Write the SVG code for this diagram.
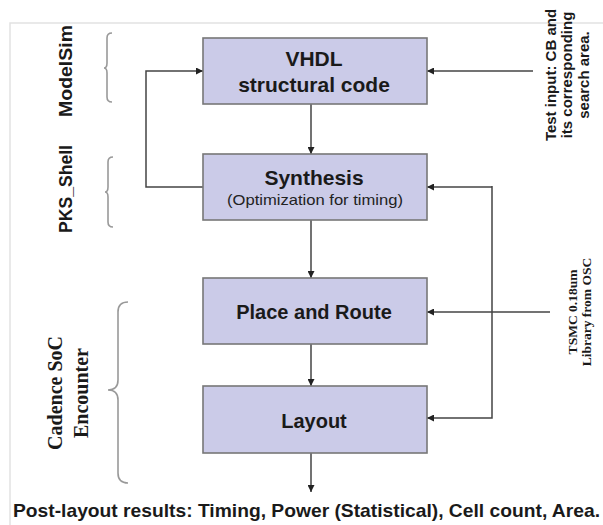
<svg xmlns="http://www.w3.org/2000/svg" width="603" height="525" viewBox="0 0 603 525">
  <style>
    .box { fill: #cbcbe8; stroke: #777; stroke-width: 1.6; }
    .title { font-family: "Liberation Sans", Arial, sans-serif; font-weight: bold; fill: #1a1a1a; text-anchor: middle; }
    .sub { font-family: "Liberation Sans", Arial, sans-serif; font-size: 15px; fill: #222; text-anchor: middle; }
    .conn { fill: none; stroke: #444; stroke-width: 1.5; }
    .brace { fill: none; stroke: #999; stroke-width: 1.6; }
    .side { font-family: "Liberation Sans", Arial, sans-serif; font-weight: bold; fill: #1a1a1a; text-anchor: middle; }
    .serif { font-family: "Liberation Serif", "Times New Roman", serif; font-weight: bold; fill: #1a1a1a; text-anchor: middle; }
  </style>
  <defs>
    <marker id="arrow" viewBox="0 0 10 10" refX="10" refY="5" markerWidth="7" markerHeight="7" markerUnits="userSpaceOnUse" orient="auto">
      <path d="M0,0 L10,5 L0,10 z" fill="#222"/>
    </marker>
  </defs>

  <rect width="603" height="525" fill="#fff"/>
  <!-- page frame -->
  <path d="M10,525 V23 H603" fill="none" stroke="#e2e2e2" stroke-width="1.5"/>

  <!-- tool labels and braces -->
  <g id="modelsim">
    <text class="side" font-size="19" transform="translate(72,71) rotate(-90)" textLength="92" lengthAdjust="spacingAndGlyphs">ModelSim</text>
    <path class="brace" d="M112,33 Q107,33 107,38 V63 Q107,68 104,68 Q107,68 107,73 V97 Q107,102 112,102"/>
  </g>
  <g id="pks-shell">
    <text class="side" font-size="18" transform="translate(72,189) rotate(-90)" textLength="88" lengthAdjust="spacingAndGlyphs">PKS_Shell</text>
    <path class="brace" d="M113,157 Q108,157 108,162 V187 Q108,192 105,192 Q108,192 108,197 V222 Q108,227 113,227"/>
  </g>
  <g id="cadence">
    <text class="serif" font-size="20" transform="translate(62,393) rotate(-90)">Cadence SoC</text>
    <text class="serif" font-size="20" transform="translate(88,393) rotate(-90)">Encounter</text>
    <path class="brace" d="M128,302 Q118,302 118,312 V380 Q118,390 108,390 Q118,390 118,400 V473 Q118,483 128,483"/>
  </g>

  <!-- connectors -->
  <g id="connectors">
    <path class="conn" d="M311,104 V154" marker-end="url(#arrow)"/>
    <path class="conn" d="M311,220 V278" marker-end="url(#arrow)"/>
    <path class="conn" d="M311,344 V386" marker-end="url(#arrow)"/>
    <path class="conn" d="M311,453 V492" marker-end="url(#arrow)"/>
    <path class="conn" d="M203,187 H146 V71 H203" marker-end="url(#arrow)"/>
    <path class="conn" d="M533,71 H427" marker-end="url(#arrow)"/>
    <path class="conn" d="M550,312 H427" marker-end="url(#arrow)"/>
    <path class="conn" d="M492,187 H427" marker-end="url(#arrow)"/>
    <path class="conn" d="M492,186 V418 H427" marker-end="url(#arrow)"/>
  </g>

  <!-- process steps -->
  <g id="vhdl">
    <rect class="box" x="203" y="38" width="224" height="66"/>
    <text class="title" font-size="21" x="314" y="66">VHDL</text>
    <text class="title" font-size="21" x="314" y="92">structural code</text>
  </g>
  <g id="synthesis">
    <rect class="box" x="203" y="154" width="224" height="66"/>
    <text class="title" font-size="21" x="314" y="185">Synthesis</text>
    <text class="sub" x="315" y="205" textLength="176" lengthAdjust="spacingAndGlyphs">(Optimization for timing)</text>
  </g>
  <g id="place-route">
    <rect class="box" x="203" y="278" width="224" height="66"/>
    <text class="title" font-size="20" x="314" y="319">Place and Route</text>
  </g>
  <g id="layout">
    <rect class="box" x="203" y="386" width="224" height="67"/>
    <text class="title" font-size="20" x="314" y="428">Layout</text>
  </g>

  <!-- inputs -->
  <g id="test-input">
    <text class="side" font-size="15" transform="translate(556,75) rotate(-90)">Test input: CB and</text>
    <text class="side" font-size="15" transform="translate(572,75) rotate(-90)">its corresponding</text>
    <text class="side" font-size="15" transform="translate(589,75) rotate(-90)">search area.</text>
  </g>
  <g id="library">
    <text class="serif" font-size="13.5" transform="translate(577,312) rotate(-90)">TSMC 0.18um</text>
    <text class="serif" font-size="13.5" transform="translate(591,312) rotate(-90)">Library from OSC</text>
  </g>

  <!-- results -->
  <g id="results">
    <text class="title" font-size="19" x="13" y="517" style="text-anchor:start" textLength="587" lengthAdjust="spacingAndGlyphs">Post-layout results: Timing, Power (Statistical), Cell count, Area.</text>
  </g>
</svg>
